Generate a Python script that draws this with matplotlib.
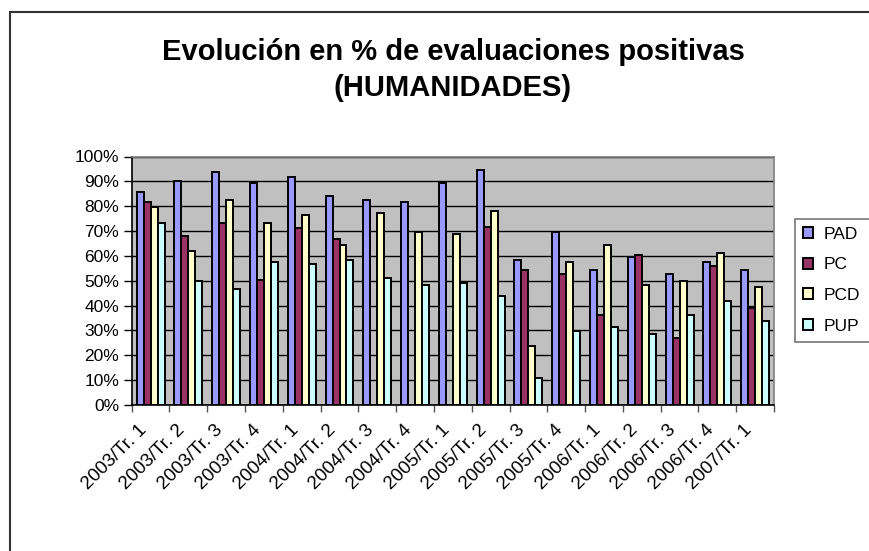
import numpy as np
import matplotlib
matplotlib.use("Agg")
from matplotlib import pyplot as plt
from matplotlib.patches import Rectangle

plt.rcParams['font.family'] = ['Liberation Sans', 'DejaVu Sans']

# Data (percent of positive evaluations)
periods = ['2003/Tr. 1', '2003/Tr. 2', '2003/Tr. 3', '2003/Tr. 4',
           '2004/Tr. 1', '2004/Tr. 2', '2004/Tr. 3', '2004/Tr. 4',
           '2005/Tr. 1', '2005/Tr. 2', '2005/Tr. 3', '2005/Tr. 4',
           '2006/Tr. 1', '2006/Tr. 2', '2006/Tr. 3', '2006/Tr. 4',
           '2007/Tr. 1']
pad = [85.6, 90.2, 93.9, 89.4, 91.6, 84.1, 82.5, 81.7, 89.4, 94.6, 58.2, 69.5,
       54.3, 59.7, 52.8, 57.4, 54.3]
pc = [81.7, 67.9, 73.4, 50.5, 71.2, 66.6, 0, 0, 0, 71.8, 54.3, 52.8,
      36.1, 60.5, 26.8, 55.8, 39.1]
pcd = [79.5, 62.0, 82.5, 73.4, 76.4, 64.3, 77.2, 69.5, 68.7, 77.9, 23.9, 57.4,
       64.3, 48.2, 49.7, 61.2, 47.4]
pup = [73.4, 49.7, 46.8, 57.4, 56.6, 58.2, 51.2, 48.1, 48.9, 43.7, 10.8, 29.8,
       31.5, 28.4, 36.1, 42.0, 33.8]
series_names = ['PAD', 'PC', 'PCD', 'PUP']
colors = ['#9999FF', '#993366', '#FFFFCC', '#CCFFFF']

W, H = 869, 551
fig = plt.figure(figsize=(W / 100, H / 100), dpi=100)

# chart border (cut off at right and bottom like the original)
fig.patches.append(Rectangle((9.5 / W, -0.1), 1.2, (H - 12) / H + 0.1,
                             transform=fig.transFigure, fill=False,
                             edgecolor='#333333', linewidth=1.5))

ax = fig.add_axes([131.7 / W, (H - 405) / H, 642.3 / W, 248.5 / H])
ax.set_facecolor('#C0C0C0')

x = np.arange(len(periods))
bw = 0.185
data = [pad, pc, pcd, pup]
handles = []
for k, (vals, col) in enumerate(zip(data, colors)):
    b = ax.bar(x + (k - 1.5) * bw, vals, bw, color=col, edgecolor='black',
               linewidth=1.4, label=series_names[k], zorder=3)
    handles.append(b)

ax.set_xlim(-0.5, len(periods) - 0.5)
ax.set_ylim(0, 100)
ax.set_yticks(np.arange(0, 101, 10))
ax.set_yticklabels([f'{v}%' for v in range(0, 101, 10)], fontsize=12.5)
ax.yaxis.grid(True, color='black', linewidth=1.0, zorder=1)
ax.set_axisbelow(True)

ax.set_xticks(np.arange(-0.5, len(periods), 1.0))
ax.set_xticklabels([])
# slanted labels end a bit left of the group centre, as in the original
ax.set_xticks(x - 0.32, minor=True)
ax.set_xticklabels(periods, minor=True, rotation=45, ha='right',
                   rotation_mode='anchor', fontsize=13.5)
ax.tick_params(axis='x', which='minor', length=0, pad=12)
ax.tick_params(axis='x', which='major', length=5, width=1, color='#555555')
ax.tick_params(axis='y', length=6, width=1, pad=3)

for s in ['top', 'right']:
    ax.spines[s].set_color('#808080')
    ax.spines[s].set_linewidth(1.2)
for s in ['left', 'bottom']:
    ax.spines[s].set_color('black')
    ax.spines[s].set_linewidth(1.2)

fig.text(453 / W, 1 - 52 / H, 'Evolución en % de evaluaciones positivas',
         ha='center', va='center', fontsize=21, fontweight='bold')
fig.text(453 / W, 1 - 88 / H, '(HUMANIDADES)',
         ha='center', va='center', fontsize=21, fontweight='bold')

leg = fig.legend(handles=handles, labels=series_names, loc='upper left',
                 bbox_to_anchor=(795 / W, 1 - 219 / H, 90 / W, 0.0),
                 mode='expand', fontsize=12.5,
                 frameon=True, fancybox=False, borderpad=0.45,
                 handlelength=0.6, handleheight=0.6, handletextpad=0.6,
                 labelspacing=0.9, borderaxespad=0)
leg.get_frame().set_edgecolor('#555555')
leg.get_frame().set_linewidth(1.2)

fig.savefig('out.png', dpi=100)
